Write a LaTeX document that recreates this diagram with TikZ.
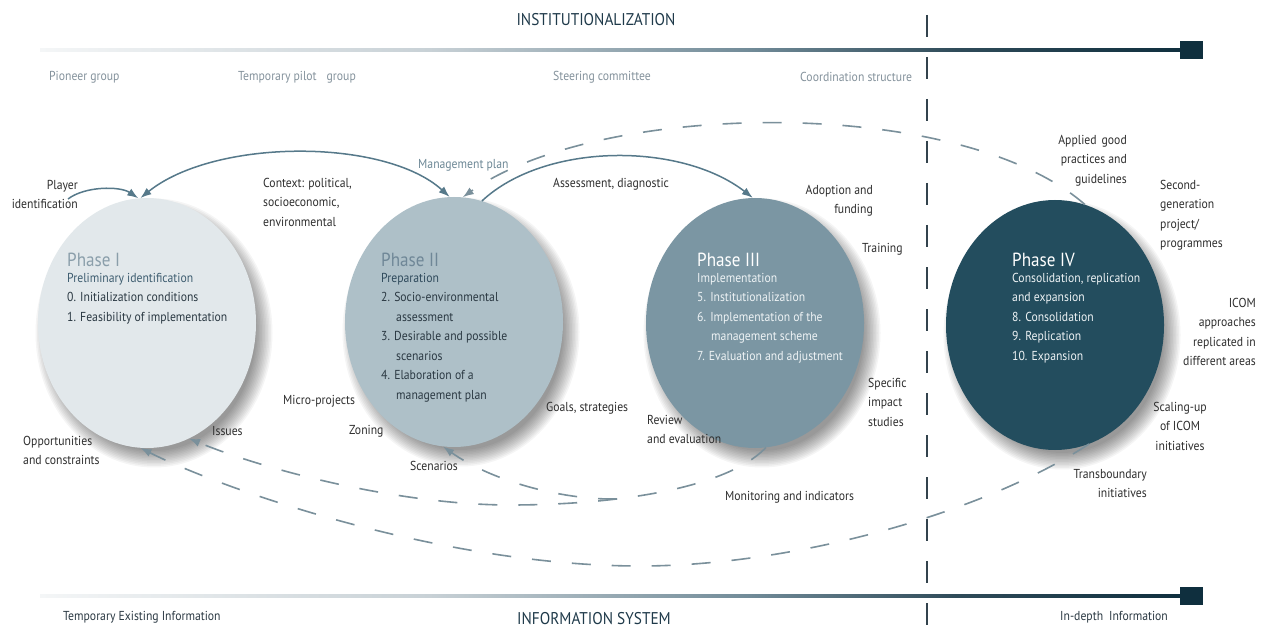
\documentclass[tikz,border=0pt]{standalone}
\usepackage{fontspec}
\setmainfont[FakeStretch=0.9]{PT Sans}
\usetikzlibrary{arrows.meta,shapes.geometric}
\definecolor{cI}{HTML}{E2E8EB}
\definecolor{cII}{HTML}{AEC0C8}
\definecolor{cIII}{HTML}{7B96A3}
\definecolor{cIV}{HTML}{234D5E}
\definecolor{arrc}{HTML}{56798A}
\definecolor{dashc}{HTML}{7A909B}
\definecolor{labc}{HTML}{2E2E2E}
\definecolor{topc}{HTML}{84929C}
\definecolor{mgmtc}{HTML}{6D8896}
\definecolor{phI}{HTML}{8A9EAA}
\definecolor{phII}{HTML}{6F8797}
\definecolor{subI}{HTML}{3E5D70}
\definecolor{subII}{HTML}{2F4A5C}
\definecolor{itemc}{HTML}{2B3943}
\definecolor{lightc}{HTML}{EEF3F5}
\definecolor{divc}{HTML}{33434D}
\definecolor{titlec}{HTML}{1F3A4A}
\definecolor{barA}{HTML}{F4F6F7}
\definecolor{barB}{HTML}{C8D1D6}
\definecolor{barC}{HTML}{718B98}
\definecolor{barD}{HTML}{2F4B59}
\definecolor{barE}{HTML}{0F2F3E}
\pgfdeclarehorizontalshading{barshade}{100bp}{color(0bp)=(barA); color(25bp)=(barA); color(42bp)=(barB); color(56bp)=(barC); color(65bp)=(barD); color(75bp)=(barE); color(100bp)=(barE)}
\newcommand{\softshadow}[2]{%
  \foreach \k in {0,...,11}{%
    \fill[black,opacity=0.04] (#1+7,#2+10) ellipse [x radius={102pt+\k*1.5pt}, y radius={118pt+\k*1.5pt}];}}
\begin{document}
\begin{tikzpicture}[x=1pt,y=-1pt,
  lab/.style={inner sep=0pt, font=\fontsize{13}{19.5}\selectfont, text=labc},
  toplab/.style={lab, text=topc, anchor=west},
  bigtitle/.style={inner sep=0pt, font=\fontsize{17}{20}\selectfont, text=titlec},
  phtitle/.style={inner sep=0pt, anchor=base west, font=\fontsize{19}{22}\selectfont},
  items/.style={inner sep=0pt, anchor=north west, align=left, font=\fontsize{13}{19.5}\selectfont},
  circ/.style={ellipse, minimum width=218pt, minimum height=250pt, inner sep=0pt},
  arr/.style={draw=arrc, line width=1.5pt, -{Latex[length=11pt,width=8pt]}},
  darr/.style={draw=dashc, line width=1.6pt, dash pattern=on 19pt off 21pt, -{Latex[length=11pt,width=8pt]}}]
\useasboundingbox (0,0) rectangle (1269,639);
\fill[white] (0,0) rectangle (1269,639);

% bars
\shade[shading=barshade] (40,48.2) rectangle (1185,51.8);
\fill[barE] (1180,41) rectangle (1203,59);
\shade[shading=barshade] (40,594.2) rectangle (1185,597.8);
\fill[barE] (1180,587) rectangle (1203,605);

% divider
\draw[divc, line width=1.3pt, dash pattern=on 22pt off 20pt] (927,15) -- (927,639);

% titles
\node[bigtitle] (tinst) at (596,20) {INSTITUTIONALIZATION};
\node[bigtitle] (tinfo) at (594,619) {INFORMATION SYSTEM};
\node[toplab] (tpio) at (49,77) {Pioneer group};
\node[toplab] (ttmp) at (238,77) {Temporary pilot\hspace{10pt}group};
\node[toplab] (tste) at (553,77) {Steering committee};
\node[toplab] (tcoo) at (800,77) {Coordination structure};
\node[lab, text=itemc, anchor=west] (btmp) at (63,617) {Temporary Existing Information};
\node[lab, text=itemc, anchor=west] (bdep) at (1060,617) {In-depth\hspace{6pt}Information};

% shadows
\softshadow{147}{323}
\softshadow{454}{322}
\softshadow{755}{323}
\softshadow{1055}{325}

% circles
\node[circ, fill=cI] (p1) at (147,323) {};
\node[circ, fill=cII] (p2) at (454,322) {};
\node[circ, fill=cIII] (p3) at (755,323) {};
\node[circ, fill=cIV] (p4) at (1055,325) {};

% phase texts
\node[phtitle, text=phI] (h1) at (67,266) {Phase I};
\node[items, text=itemc] (i1) at (67,273) {{\color{subI}Preliminary identification}\\0. Initialization conditions\\1. Feasibility of implementation};
\node[phtitle, text=phII] (h2) at (381,266) {Phase II};
\node[items, text=itemc] (i2) at (381,273) {{\color{subII}Preparation}\\2. Socio-environmental\\\hspace*{15pt}assessment\\3. Desirable and possible\\\hspace*{15pt}scenarios\\4. Elaboration of a\\\hspace*{15pt}management plan};
\node[phtitle, text=white] (h3) at (697,266) {Phase III};
\node[items, text=lightc] (i3) at (697,273) {Implementation\\5. Institutionalization\\6. Implementation of the\\\hspace*{14pt}management scheme\\7. Evaluation and adjustment};
\node[phtitle, text=white] (h4) at (1012,266) {Phase IV};
\node[items, text=lightc] (i4) at (1012,273) {Consolidation, replication\\and expansion\\8. Consolidation\\9. Replication\\10. Expansion};

% labels
\node[lab, anchor=north east, align=right] (lplay) at (78,180) {Player\\identification};
\node[lab, anchor=north west, align=left] (lctx) at (263,178) {Context: political,\\socioeconomic,\\environmental};
\node[lab, text=mgmtc, anchor=west] (lmgmt) at (418,165) {Management plan};
\node[lab, anchor=west] (lass) at (553,184) {Assessment, diagnostic};
\node[lab, anchor=north east, align=right] (ladop) at (873,185) {Adoption and\\funding};
\node[lab, anchor=west] (ltrain) at (862,249) {Training};
\node[lab, anchor=north east, align=right] (lapp) at (1127,135) {Applied\hspace{5pt}good\\practices and\\guidelines};
\node[lab, anchor=north west, align=left] (lsec) at (1160,180) {Second-\\generation\\project/\\programmes};
\node[lab, anchor=north east, align=right] (licom) at (1256,298) {ICOM\\approaches\\replicated in\\different areas};
\node[lab, anchor=north, align=center] (lscal) at (1180,402) {Scaling-up\\of ICOM\\initiatives};
\node[lab, anchor=north east, align=right] (ltrans) at (1147,469) {Transboundary\\initiatives};
\node[lab, anchor=north west, align=left] (lspec) at (868,378) {Specific\\impact\\studies};
\node[lab, anchor=north west, align=left] (lrev) at (647,415) {Review\\and evaluation};
\node[lab, anchor=west] (lmon) at (725,497) {Monitoring and indicators};
\node[lab, anchor=west] (lgoal) at (546,408) {Goals, strategies};
\node[lab, anchor=west] (lmicro) at (283,401) {Micro-projects};
\node[lab, anchor=west] (lzon) at (349,431) {Zoning};
\node[lab, anchor=west] (liss) at (212,431) {Issues};
\node[lab, anchor=west] (lscen) at (410,466) {Scenarios};
\node[lab, anchor=north west, align=left] (lopp) at (23,436) {Opportunities\\and constraints};

% solid connectors
\coordinate (plstart) at (68,199);
\draw[arr] (plstart) .. controls (85,186) and (120,186) .. (p1.94);
\draw[arr, {Latex[length=11pt,width=8pt]}-{Latex[length=11pt,width=8pt]}] (p1.93) .. controls (215,138) and (385,138) .. (p2.92);
\draw[arr] (p2.77) .. controls (545,142) and (681,142) .. (p3.91);

% dashed connectors
\draw[darr] (p4.76) .. controls (960,95) and (600,100) .. (p2.86);
\draw[darr] (p4.286) .. controls (980,515) and (790,566) .. (640,566) .. controls (440,566) and (220,488) .. (p1.267);
\draw[darr] (p3.275) .. controls (725,490) and (610,505) .. (510,505) .. controls (400,505) and (265,470) .. (p1.290);
\coordinate (jA) at (617,499);
\draw[darr] (jA) .. controls (560,500) and (490,480) .. (p2.265);
\end{tikzpicture}
\end{document}
